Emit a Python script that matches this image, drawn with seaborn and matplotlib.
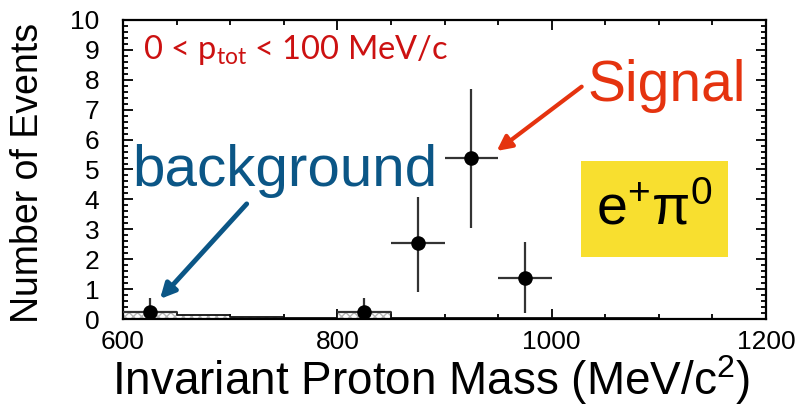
import numpy as np
import pandas as pd
import matplotlib
matplotlib.use("Agg")
import matplotlib.pyplot as plt
from matplotlib.patches import Rectangle
from matplotlib.ticker import MultipleLocator
import seaborn as sns

# Observed events per 50 MeV/c^2 bin
mass_centers = [625, 825, 875, 925, 975]
events = [0.23, 0.22, 2.55, 5.40, 1.38]
err_up = [0.47, 0.48, 1.53, 2.30, 1.20]
err_down = [0.23, 0.22, 1.65, 2.35, 1.18]
bin_half_width = 25

# Expected background (50 MeV/c^2 bins from 600 to 1200)
bkg_edges = [600, 650, 700, 750, 800, 850, 900, 950, 1000, 1050, 1100, 1150, 1200]
bkg_counts = [0.25, 0.12, 0.08, 0.04, 0.24, 0.03, 0.02, 0.02, 0.04, 0.02, 0.0, 0.0]

x_ticks = [600, 800, 1000, 1200]
y_ticks = list(range(0, 11))

sns.set_theme(style="ticks")
plt.rcParams["font.family"] = ["Liberation Sans", "DejaVu Sans"]
plt.rcParams["mathtext.default"] = "regular"
plt.rcParams["text.color"] = "black"
plt.rcParams["axes.labelcolor"] = "black"
plt.rcParams["xtick.color"] = "black"
plt.rcParams["ytick.color"] = "black"

fig = plt.figure(figsize=(8.01, 4.07), dpi=100)
ax = fig.add_axes([0.1536, 0.2162, 0.8027, 0.7347])

bkg_df = pd.DataFrame({
    "mass": [(a + b) / 2 for a, b in zip(bkg_edges[:-1], bkg_edges[1:])],
    "w": bkg_counts,
})
sns.histplot(data=bkg_df, x="mass", weights="w", bins=bkg_edges, element="step",
             fill=True, color="white", hatch="xxxx", edgecolor="#b8b8b8",
             linewidth=0, alpha=1, ax=ax)
sns.histplot(data=bkg_df, x="mass", weights="w", bins=bkg_edges, element="step",
             fill=False, color="#111111", linewidth=1.3, ax=ax)

ax.errorbar(mass_centers, events, xerr=bin_half_width, yerr=[err_down, err_up],
            fmt="none", ecolor="#333333", elinewidth=1.6, capsize=0, zorder=3)
pts = pd.DataFrame({"mass": mass_centers, "events": events})
sns.scatterplot(data=pts, x="mass", y="events", color="black", s=110,
                edgecolor="black", linewidth=0, zorder=4, ax=ax)

ax.set_xlim(600, 1200)
ax.set_ylim(0, 10)
ax.set_xticks(x_ticks)
ax.set_yticks(y_ticks)
ax.xaxis.set_minor_locator(MultipleLocator(50))
ax.yaxis.set_minor_locator(MultipleLocator(0.2))
ax.tick_params(which="both", direction="in", top=True, right=True,
               color="black", labelcolor="black", width=1.3)
ax.tick_params(which="major", length=7)
ax.tick_params(which="minor", length=3.5)
ax.tick_params(axis="x", which="major", labelsize=19, pad=8)
ax.tick_params(axis="y", which="major", labelsize=19, pad=17)
for side in ax.spines.values():
    side.set_linewidth(1.6)
    side.set_color("black")

ax.set_xlabel("Invariant Proton Mass (MeV/c$^{2}$)", fontsize=33, va="center",
              color="black")
ax.xaxis.set_label_coords(0.479, -0.205)
ax.set_ylabel("Number of Events", fontsize=27, va="center", color="black")
ax.yaxis.set_label_coords(-0.148, 0.49)

ax.text(619, 9.0, "0 < p$_{tot}$ < 100 MeV/c", fontsize=23.5, color="#cc1111",
        ha="left", va="center", family=["Lato", "DejaVu Sans"])

ax.text(1033, 7.29, "Signal", fontsize=41, color="#e5330f", ha="left", va="baseline")
ax.annotate("", xy=(948.7, 5.62), xytext=(1028, 7.77),
            arrowprops=dict(arrowstyle="-|>", color="#e5330f", lw=3,
                            mutation_scale=22, shrinkA=0, shrinkB=0))

ax.text(609, 4.45, "background", fontsize=42, color="#0b5686", ha="left", va="baseline")
ax.annotate("", xy=(634.5, 0.67), xytext=(715.4, 3.85),
            arrowprops=dict(arrowstyle="-|>", color="#0b5686", lw=3.5,
                            mutation_scale=22, shrinkA=0, shrinkB=0))

ax.add_patch(Rectangle((1027.4, 2.07), 137.2, 3.21, facecolor="#f8df2f",
                       edgecolor="none", zorder=2))
ax.text(1096, 3.62, r"e$^{+}\pi^{0}$", fontsize=40, color="black",
        ha="center", va="center", zorder=3)

fig.savefig("out.png", dpi=100)
